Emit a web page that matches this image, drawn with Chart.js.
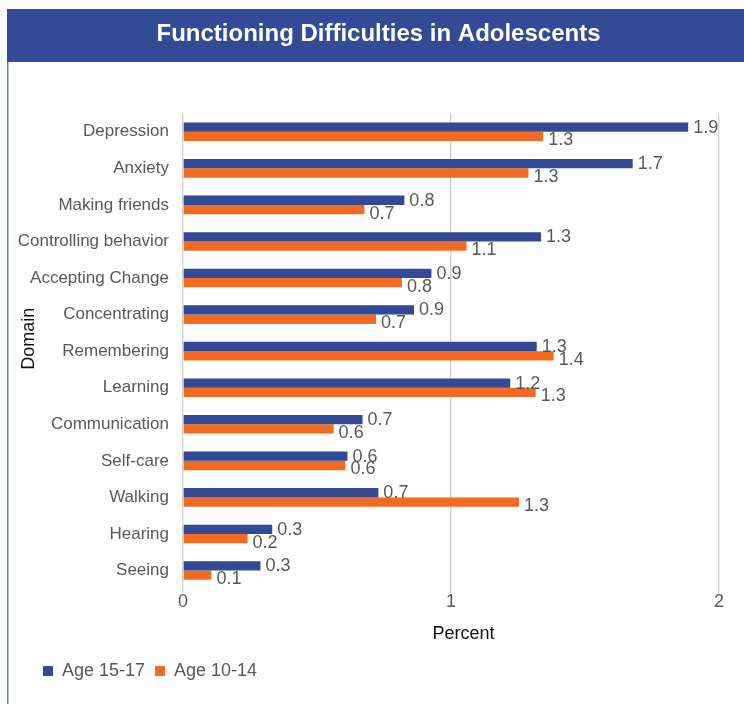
<!DOCTYPE html>
<html>
<head>
<meta charset="utf-8">
<script src="https://cdn.jsdelivr.net/npm/chart.js@4.4.0/dist/chart.umd.min.js"></script>
<style>
html,body{margin:0;padding:0;background:#fff;}
#wrap{width:744px;height:704px;position:relative;}
</style>
</head>
<body>
<div id="wrap"><canvas id="c" width="744" height="704"></canvas></div>
<script>
// ---- data ----
const titleText = 'Functioning Difficulties in Adolescents';
const categories = ['Depression','Anxiety','Making friends','Controlling behavior','Accepting Change','Concentrating','Remembering','Learning','Communication','Self-care','Walking','Hearing','Seeing'];
const seriesNames = ['Age 15-17','Age 10-14'];
const age15_17 = [1.885,1.678,0.826,1.336,0.927,0.862,1.320,1.221,0.670,0.614,0.729,0.333,0.289];
const age10_14 = [1.344,1.289,0.677,1.058,0.817,0.720,1.383,1.316,0.562,0.606,1.254,0.241,0.106];
const xTickValues = [0,1,2];
const xTitle = 'Percent';
const yTitle = 'Domain';

const BLUE = '#334A96';
const ORANGE = '#F26B21';
const GRAY = '#595959';
const FONT = "'Liberation Sans', Arial, sans-serif";

const bannerPlugin = {
  id: 'banner',
  beforeDraw(chart) {
    const ctx = chart.ctx;
    ctx.save();
    ctx.fillStyle = '#fff';
    ctx.fillRect(0, 0, chart.width, chart.height);
    ctx.fillStyle = BLUE;
    ctx.fillRect(7, 9, chart.width - 7, 53);
    ctx.fillStyle = '#6A7CC0';
    ctx.fillRect(7, 62, 1.5, chart.height - 62);
    ctx.restore();
  }
};

const blockShift = {
  id: 'blockShift',
  afterLayout(chart) {
    if (chart.legend) { chart.legend.left += 25; chart.legend.right += 25; }
    if (chart.titleBlock) { chart.titleBlock.left += 15; chart.titleBlock.right += 15; }
  }
};

const valueLabels = {
  id: 'valueLabels',
  afterDatasetsDraw(chart) {
    const ctx = chart.ctx;
    ctx.save();
    ctx.font = '18px ' + FONT;
    ctx.fillStyle = GRAY;
    ctx.textAlign = 'left';
    ctx.textBaseline = 'middle';
    chart.data.datasets.forEach((ds, di) => {
      const meta = chart.getDatasetMeta(di);
      meta.data.forEach((bar, i) => {
        const txt = ds.data[i].toFixed(1);
        ctx.fillText(txt, bar.x + 5, bar.y + (di === 1 ? 4 : 0.5));
      });
    });
    ctx.restore();
  }
};

new Chart(document.getElementById('c'), {
  type: 'bar',
  data: {
    labels: categories,
    datasets: [
      { label: seriesNames[0], data: age15_17, backgroundColor: BLUE, borderWidth: 0, barPercentage: 1, categoryPercentage: 0.51 },
      { label: seriesNames[1], data: age10_14, backgroundColor: ORANGE, borderWidth: 0, barPercentage: 1, categoryPercentage: 0.51 }
    ]
  },
  options: {
    indexAxis: 'y',
    responsive: false,
    animation: false,
    devicePixelRatio: 1,
    layout: { padding: { left: 8, right: 25, top: 0, bottom: 14 } },
    plugins: {
      title: {
        display: true,
        text: titleText,
        color: '#ffffff',
        font: { family: FONT, size: 24, weight: 'bold' },
        padding: { top: 20, bottom: 64.7 }
      },
      legend: {
        display: true,
        position: 'bottom',
        align: 'start',
        labels: {
          color: GRAY,
          font: { family: FONT, size: 18 },
          boxWidth: 10,
          boxHeight: 10,
          padding: 10
        }
      },
      tooltip: { enabled: false }
    },
    scales: {
      x: {
        type: 'linear',
        min: 0,
        max: 2,
        afterBuildTicks(scale) { scale.ticks = xTickValues.map(v => ({ value: v })); },
        ticks: { color: GRAY, font: { family: FONT, size: 18 }, padding: -2 },
        grid: { color: '#D0D0D0', lineWidth: 1.3, tickLength: 4, drawTicks: true },
        border: { display: false },
        title: { display: true, text: '     ' + xTitle, color: '#111', font: { family: FONT, size: 18 }, padding: { top: 13, bottom: 7 } }
      },
      y: {
        grid: { display: false, drawTicks: false },
        border: { display: false },
        ticks: { color: GRAY, font: { family: FONT, size: 17 }, padding: 14 },
        afterFit(scale) { scale.width = 175; },
        title: { display: true, text: '     ' + yTitle, color: '#111', font: { family: FONT, size: 18 }, padding: { top: 10, bottom: 0 } }
      }
    }
  },
  plugins: [bannerPlugin, blockShift, valueLabels]
});
</script>
</body>
</html>
